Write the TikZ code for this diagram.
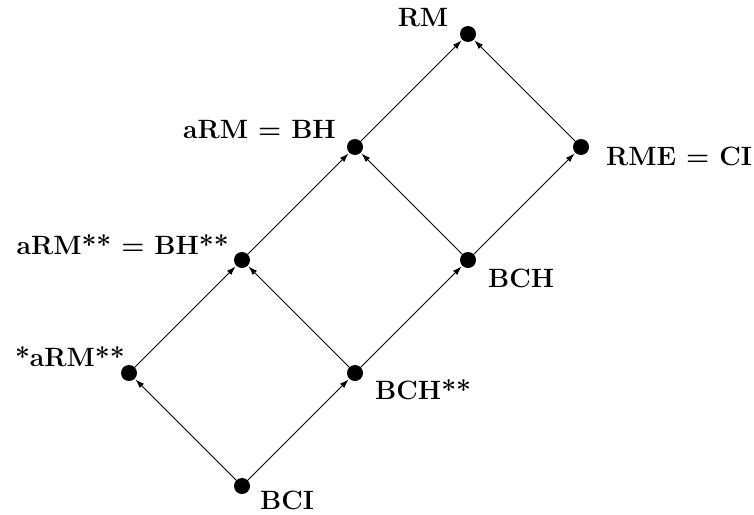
\documentclass[tikz,border=0pt]{standalone}
\usepackage{fontspec}
\usetikzlibrary{arrows.meta}
\begin{document}
\begin{tikzpicture}[x=1pt,y=-1pt,
  dot/.style={circle,fill=black,inner sep=0pt,minimum size=16pt},
  lbl/.style={font=\fontsize{26.5}{31}\selectfont\bfseries,inner sep=0pt},
  arr/.style={-{Latex[length=9pt,width=6pt]},line width=0.9pt,shorten >=1pt}]
\useasboundingbox (0,0) rectangle (754,514);
\node[dot] (bci) at (242,486) {};
\node[dot] (sarm) at (129,373) {};
\node[dot] (bchss) at (355,373) {};
\node[dot] (armss) at (242,260) {};
\node[dot] (bch) at (468,260) {};
\node[dot] (arm) at (355,147) {};
\node[dot] (rme) at (581,147) {};
\node[dot] (rm) at (468,34) {};
\node[lbl] (lrm) at (423,18) {RM};
\node[lbl,anchor=east] (larm) at (336,130) {aRM = BH};
\node[lbl,anchor=west] (lrme) at (606,156) {RME = CI};
\node[lbl,anchor=east] (larmss) at (229,245) {aRM** = BH**};
\node[lbl,anchor=west] (lbch) at (488,278) {BCH};
\node[lbl,anchor=east] (lsarm) at (125,357) {*aRM**};
\node[lbl,anchor=west] (lbchss) at (375,390) {BCH**};
\node[lbl,anchor=west] (lbci) at (260,500) {BCI};
\draw[arr] (bci) -- (sarm);
\draw[arr] (bci) -- (bchss);
\draw[arr] (sarm) -- (armss);
\draw[arr] (bchss) -- (armss);
\draw[arr] (bchss) -- (bch);
\draw[arr] (armss) -- (arm);
\draw[arr] (bch) -- (arm);
\draw[arr] (bch) -- (rme);
\draw[arr] (arm) -- (rm);
\draw[arr] (rme) -- (rm);
\end{tikzpicture}
\end{document}
